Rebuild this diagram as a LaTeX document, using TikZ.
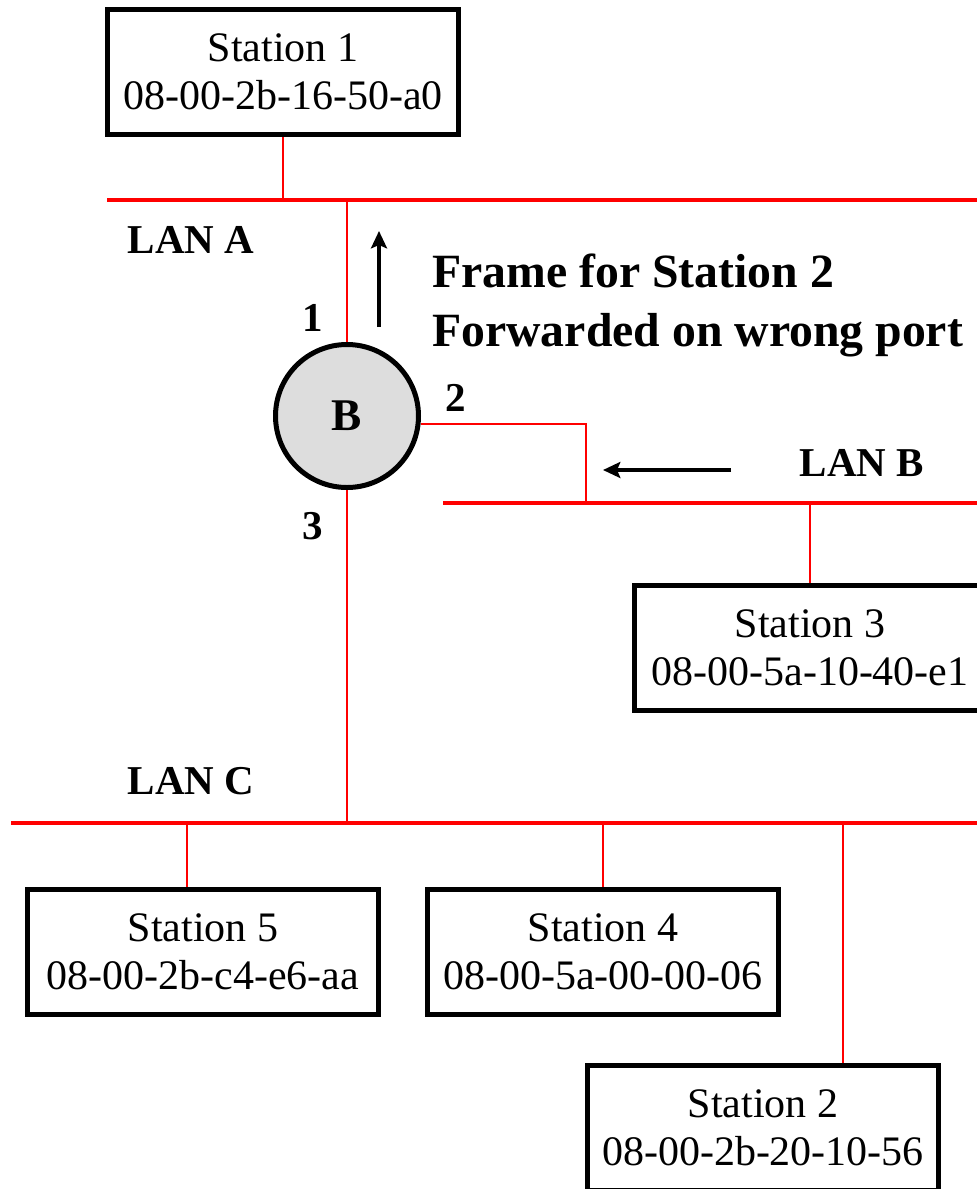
\documentclass[tikz,border=0pt]{standalone}
\usepackage{amsmath}
\usepackage{fontspec}
\setmainfont{Liberation Serif}
\usetikzlibrary{calc,arrows.meta}

\begin{document}
\begin{tikzpicture}[x=0.75pt,y=0.75pt,yscale=-1,xscale=1,
  station/.style={draw, line width=3.75, minimum width=263.25pt, minimum height=93.75pt, align=center, inner sep=0, font=\fontsize{31.5}{36}\selectfont},
  lan/.style={color=red, line width=3},
  tap/.style={color=red, line width=1.5},
  portlbl/.style={inner sep=0, font=\bfseries\fontsize{30.75}{36}\selectfont},
  fwd/.style={line width=3.5, -{Stealth[length=13pt,width=12pt,inset=2.5pt]}}]
\clip (0,0) rectangle (977,1189);
%Shape: Bridge
\node [circle, draw, line width=3.75, fill={rgb,255:red,221;green,221;blue,221}, minimum size=107.25pt, inner sep=0, font=\bfseries\fontsize{34}{36}\selectfont] (bridge) at (347,416) {B};
%Shape: Stations
\node [station] (st1) at (283,72) {Station 1\\08-00-2b-16-50-a0};
\node [station] (st3) at (810,648) {Station 3\\08-00-5a-10-40-e1};
\node [station] (st5) at (203,952) {Station 5\\08-00-2b-c4-e6-aa};
\node [station] (st4) at (603,952) {Station 4\\08-00-5a-00-00-06};
\node [station] (st2) at (763,1128) {Station 2\\08-00-2b-20-10-56};
%Straight Lines: LANs
\coordinate (lanA-w) at (107,200); \coordinate (lanA-e) at (977,200);
\coordinate (lanB-w) at (443,503); \coordinate (lanB-e) at (977,503);
\coordinate (lanC-w) at (11,823);  \coordinate (lanC-e) at (977,823);
\draw [lan] (lanA-w) -- (lanA-e);
\draw [lan] (lanB-w) -- (lanB-e);
\draw [lan] (lanC-w) -- (lanC-e);
%Straight Lines: taps
\draw [tap] (st1) -- (st1 |- lanA-w);
\draw [tap] (bridge) -- (bridge |- lanA-w);
\coordinate (p2drop) at (586,503);
\draw [tap] (bridge.-6) -| (p2drop);
\draw [tap] (bridge) -- (bridge |- lanC-w);
\coordinate (st3tap) at (810,503);
\draw [tap] (st3) -- (st3tap);
\coordinate (st5tap) at (187,823);
\draw [tap] (st5tap) -- (st5tap |- st5.north);
\coordinate (st4tap) at (603,823);
\draw [tap] (st4tap) -- (st4tap |- st4.north);
\coordinate (st2tap) at (843,823);
\draw [tap] (st2tap) -- (st2tap |- st2.north);
%Arrows
\coordinate (upT) at (379,327); \coordinate (upH) at (379,231);
\draw [fwd] (upT) -- (upH);
\coordinate (lftT) at (731,470); \coordinate (lftH) at (603,470);
\draw [fwd] (lftT) -- (lftH);
%Labels
\node [portlbl] (lblA) at (191,240) {LAN A};
\node [portlbl] (lblB) at (862,463) {LAN B};
\node [portlbl] (lblC) at (191,781) {LAN C};
\node [portlbl] (port1) at (313,318) {1};
\node [portlbl] (port2) at (456,398) {2};
\node [portlbl] (port3) at (313,526) {3};
\node [anchor=west, align=left, inner sep=0, font=\bfseries\fontsize{35.8}{44.25}\selectfont] (note) at (432,305) {Frame for Station 2\\Forwarded on wrong port};
\end{tikzpicture}
\end{document}
